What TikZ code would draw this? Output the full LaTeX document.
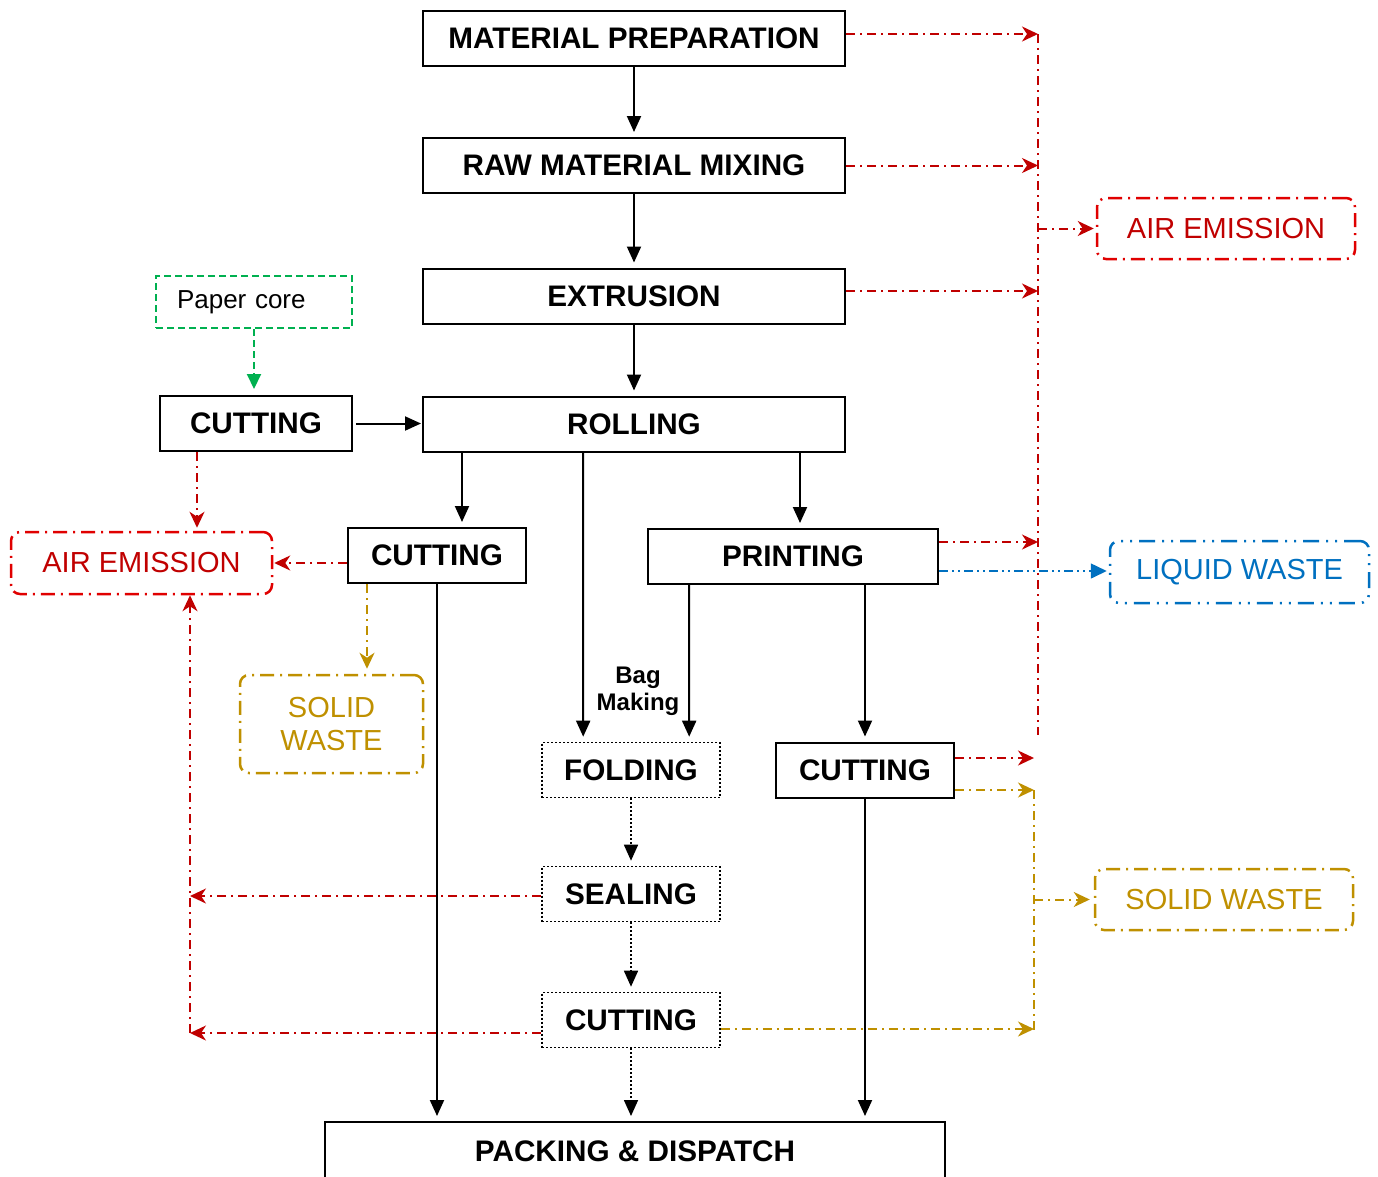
\documentclass[tikz,border=0pt]{standalone}
\usepackage{fontspec}
\setmainfont{Liberation Sans}
\usetikzlibrary{arrows.meta,positioning,calc}
\definecolor{emisred}{HTML}{C00000}
\definecolor{boxred}{HTML}{E00000}
\definecolor{wastegold}{HTML}{BF9000}
\definecolor{liqblue}{HTML}{0070C0}
\definecolor{coregreen}{HTML}{00B050}

\begin{document}
\begin{tikzpicture}[x=1pt, y=-1pt,
    proc/.style={draw, line width=2pt, font=\bfseries\fontsize{29.7}{34}\selectfont, inner sep=0pt, minimum height=55pt},
    bagbox/.style={proc, line width=1.6pt, dash pattern=on 2pt off 2pt, minimum width=178pt},
    outbox/.style={draw, rounded corners=9pt, line width=2.5pt, font=\fontsize{29}{33}\selectfont, inner sep=0pt},
    airbox/.style={outbox, draw=boxred, text=emisred, dash pattern=on 14pt off 6pt on 2pt off 6pt},
    solidbox/.style={outbox, draw=wastegold, text=wastegold, dash pattern=on 14pt off 6pt on 2pt off 6pt},
    liqbox/.style={outbox, draw=liqblue, text=liqblue, dash pattern=on 16pt off 7pt on 2pt off 7pt on 2pt off 7pt},
    corebox/.style={draw=coregreen, line width=2pt, dash pattern=on 7pt off 4pt, font=\fontsize{26}{30}\selectfont, inner sep=0pt},
    flow/.style={line width=2pt, -{Triangle[length=16pt,width=14pt]}, shorten >=5pt},
    bagflow/.style={flow, line width=1.6pt, dash pattern=on 2pt off 2pt},
    coreflow/.style={line width=2pt, draw=coregreen, dash pattern=on 7pt off 4pt, -{Triangle[length=15pt,width=14pt]}, shorten >=6pt},
    emisline/.style={line width=2pt, draw=emisred, dash pattern=on 9pt off 5pt on 2pt off 5pt},
    emis/.style={emisline, -{Stealth[length=16pt,width=15pt,inset=5pt]}},
    wasteline/.style={line width=2pt, draw=wastegold, dash pattern=on 9pt off 5pt on 2pt off 5pt},
    waste/.style={wasteline, -{Stealth[length=16pt,width=15pt,inset=5pt]}},
    liq/.style={line width=1.5pt, draw=liqblue, dash pattern=on 9pt off 4pt on 2pt off 4pt on 2pt off 4pt, -{Triangle[length=16pt,width=15pt]}}
]
\useasboundingbox (0,0) rectangle (1378,1176);

\node[proc, minimum width=422pt] (mp) at (634,38.5) {MATERIAL PREPARATION};
\node[proc, minimum width=422pt] (rmm) at (634,165.5) {RAW MATERIAL MIXING};
\node[proc, minimum width=422pt] (ext) at (634,296) {EXTRUSION};
\node[proc, minimum width=422pt] (roll) at (634,424) {ROLLING};
\node[corebox, text width=196pt, minimum height=52pt, align=left] (core) at (254,302) {\hspace*{21pt}Paper core};
\node[proc, minimum width=192pt] (cutA) at (256,423.5) {CUTTING};
\node[proc, minimum width=178pt] (cutB) at (437,555.5) {CUTTING};
\node[proc, minimum width=290pt] (print) at (793,556.5) {PRINTING};
\node[proc, minimum width=178pt] (cutC) at (865,770) {CUTTING};
\node[bagbox] (fold) at (631,770) {FOLDING};
\node[bagbox] (seal) at (631,894) {SEALING};
\node[bagbox] (cutD) at (631,1020) {CUTTING};
\node[proc, minimum width=620pt, minimum height=58pt] (pack) at (635,1151) {PACKING \& DISPATCH};
\node[font=\bfseries\fontsize{24}{27}\selectfont, align=center] (bag) at (638,691) {Bag\\Making};

\node[airbox, minimum width=261pt, minimum height=62pt] (airL) at (141.5,563) {AIR EMISSION};
\node[airbox, minimum width=258pt, minimum height=61pt] (airR) at (1226,228.5) {AIR EMISSION};
\node[liqbox, minimum width=259pt, minimum height=62pt] (liq) at (1239.5,572) {LIQUID WASTE};
\node[solidbox, minimum width=183pt, minimum height=98pt, align=center] (solL) at (331.5,724) {SOLID\\WASTE};
\node[solidbox, minimum width=258pt, minimum height=61pt] (solR) at (1224,899.5) {SOLID WASTE};

\coordinate (airbus) at (1038,34);
\coordinate (airend) at (1038,735);
\coordinate (wastebus) at (1034,790);
\coordinate (wasteend) at (1034,1030);
\coordinate (retbus) at (190,1033);

\draw[flow] (mp) -- (rmm);
\draw[flow] (rmm) -- (ext);
\draw[flow] (ext) -- (roll);
\draw[flow, shorten <=3pt, shorten >=1pt] (cutA.east) -- (cutA.east -| roll.west);
\draw[coreflow] (core) -- (core |- cutA.north);
\draw[flow] ([xshift=40pt]roll.south west) -- ([xshift=115pt]cutB.north west);
\draw[flow] ([xshift=161pt]roll.south west) -- ([xshift=42pt]fold.north west);
\draw[flow] ([xshift=378pt]roll.south west) -- ([xshift=153pt]print.north west);
\draw[flow] ([xshift=42pt]print.south west) -- ([xshift=148pt]fold.north west);
\draw[flow] (print.south -| cutC) -- (cutC);
\draw[flow] (cutB) -- (cutB |- pack.north);
\draw[flow] (cutC) -- (cutC |- pack.north);
\draw[bagflow] (fold) -- (seal);
\draw[bagflow] (seal) -- (cutD);
\draw[bagflow] (cutD) -- (cutD |- pack.north);

\draw[emis] ([yshift=4.5pt]mp.east) -- ([yshift=4.5pt]mp.east -| airbus);
\draw[emis] (rmm.east) -- (rmm.east -| airbus);
\draw[emis] ([yshift=5pt]ext.east) -- ([yshift=5pt]ext.east -| airbus);
\draw[emis] ([yshift=14.5pt]print.east) -- ([yshift=14.5pt]print.east -| airbus);
\draw[emisline] (airbus) -- (airend);
\draw[emis, shorten >=2pt] (airbus |- airR.west) -- (airR.west);
\draw[emis] ([yshift=12pt]cutC.east) -- ([yshift=12pt]cutC.east -| wastebus);
\draw[liq, shorten >=2pt] ([yshift=-14.5pt]print.east) -- ([yshift=-14.5pt]print.east -| liq.west);

\draw[waste] ([yshift=-20pt]cutC.east) -- (wastebus);
\draw[wasteline] (wastebus) -- (wasteend);
\draw[waste, shorten >=4pt] (wastebus |- solR.west) -- (solR.west);
\draw[waste] ([yshift=-9pt]cutD.east) -- ([yshift=-9pt]cutD.east -| wasteend);

\draw[emis, shorten >=3pt] ([xshift=38pt]cutA.south west) -- ([xshift=38pt]cutA.south west |- airL.north);
\draw[emis, shorten >=1pt] (cutB.west |- airL.east) -- (airL.east);
\draw[waste, shorten >=5pt] ([xshift=20pt]cutB.south west) -- ([xshift=20pt]cutB.south west |- solL.north);
\draw[emis] ([yshift=-2pt]seal.west) -- ([yshift=-2pt]seal.west -| retbus);
\draw[emis] ([yshift=-13pt]cutD.west) -- (retbus);
\draw[emis] (retbus) -- (retbus |- airL.south);
\end{tikzpicture}
\end{document}
